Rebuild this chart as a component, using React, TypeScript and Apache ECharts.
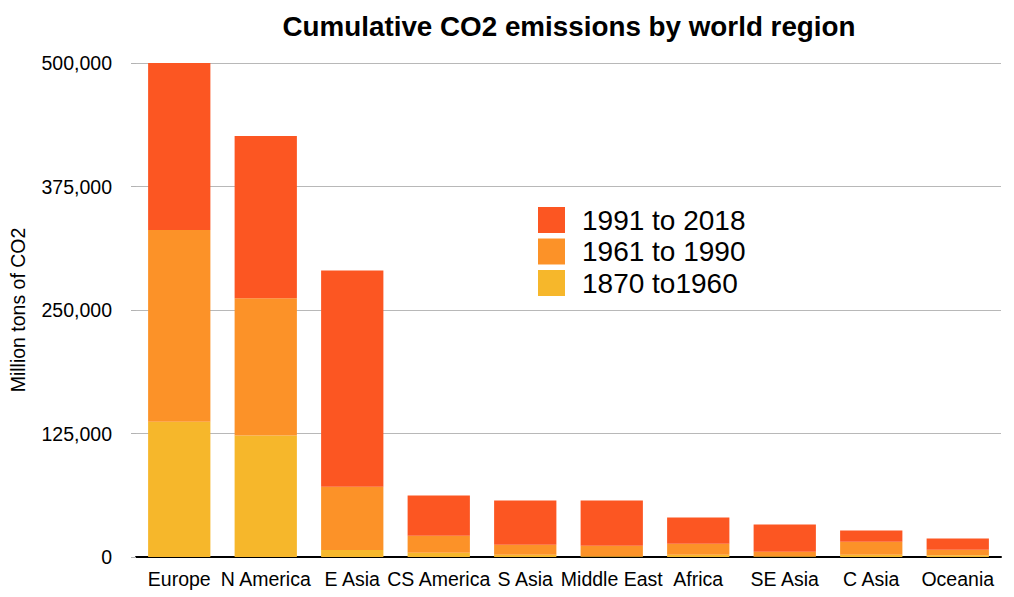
import React, { useEffect, useRef } from "react";
import * as echarts from "echarts";

const regions = [
  "Europe",
  "N America",
  "E Asia",
  "CS America",
  "S Asia",
  "Middle East",
  "Africa",
  "SE Asia",
  "C Asia",
  "Oceania",
];

// Million tons of CO2 per period
const period1870to1960 = [137000, 123000, 7000, 4400, 2400, 700, 2400, 700, 2400, 1700];
const period1961to1990 = [194000, 139000, 64000, 17200, 10100, 10800, 11100, 4700, 13100, 5700];
const period1991to2018 = [169000, 164000, 219000, 40600, 44600, 45600, 26400, 27400, 11200, 11200];

const yTicks = [0, 125000, 250000, 375000, 500000];

const FONT = "'Liberation Sans', Arial, Helvetica, sans-serif";

export default function App() {
  const ref = useRef<HTMLDivElement>(null);

  useEffect(() => {
    if (!ref.current) return;
    const chart = echarts.init(ref.current, undefined, { renderer: "svg" });
    const step = yTicks[1] - yTicks[0];
    chart.setOption({
      animation: false,
      backgroundColor: "#ffffff",
      textStyle: { fontFamily: FONT },
      title: {
        text: "Cumulative CO2 emissions by world region",
        left: 569,
        top: 12,
        padding: 0,
        textAlign: "center",
        textStyle: { fontFamily: FONT, fontSize: 27.8, fontWeight: "bold", color: "#000" },
      },
      legend: {
        orient: "vertical",
        left: 538,
        top: 206,
        padding: 0,
        itemWidth: 27,
        itemHeight: 26,
        itemGap: 3.5,
        icon: "rect",
        data: ["1991 to 2018", "1961 to 1990", "1870 to1960"],
        textStyle: {
          fontFamily: FONT,
          fontSize: 28,
          lineHeight: 26,
          color: "#000",
          padding: [0, 0, 0, 12],
        },
      },
      grid: { left: 136, right: 13, top: 63, bottom: 40 },
      xAxis: {
        type: "category",
        data: regions,
        axisLine: { lineStyle: { color: "#000", width: 2 } },
        axisTick: { show: false },
        axisLabel: {
          interval: 0,
          margin: 12,
          fontFamily: FONT,
          fontSize: 19.5,
          color: "#000",
        },
      },
      yAxis: {
        type: "value",
        min: yTicks[0],
        max: yTicks[yTicks.length - 1],
        interval: step,
        name: "Million tons of CO2",
        nameLocation: "middle",
        nameGap: 108,
        nameRotate: 90,
        nameTextStyle: { fontFamily: FONT, fontSize: 19.5, color: "#000" },
        axisLine: { show: false },
        axisTick: { show: true, length: 5, lineStyle: { color: "#b3b3b3" } },
        splitLine: { lineStyle: { color: "#b8b8b8", width: 1 } },
        axisLabel: {
          margin: 24,
          fontFamily: FONT,
          fontSize: 19.5,
          color: "#000",
          formatter: (v: number) => v.toLocaleString("en-US"),
        },
      },
      series: [
        {
          name: "1870 to1960",
          type: "bar",
          stack: "total",
          barWidth: "72%",
          itemStyle: { color: "#F6B72B" },
          data: period1870to1960,
        },
        {
          name: "1961 to 1990",
          type: "bar",
          stack: "total",
          barWidth: "72%",
          itemStyle: { color: "#FC9228" },
          data: period1961to1990,
        },
        {
          name: "1991 to 2018",
          type: "bar",
          stack: "total",
          barWidth: "72%",
          itemStyle: { color: "#FC5622" },
          data: period1991to2018,
        },
      ],
    });
    return () => chart.dispose();
  }, []);

  return (
    <div
      ref={ref}
      style={{ position: "absolute", left: 0, top: 0, width: 1014, height: 597 }}
    />
  );
}
